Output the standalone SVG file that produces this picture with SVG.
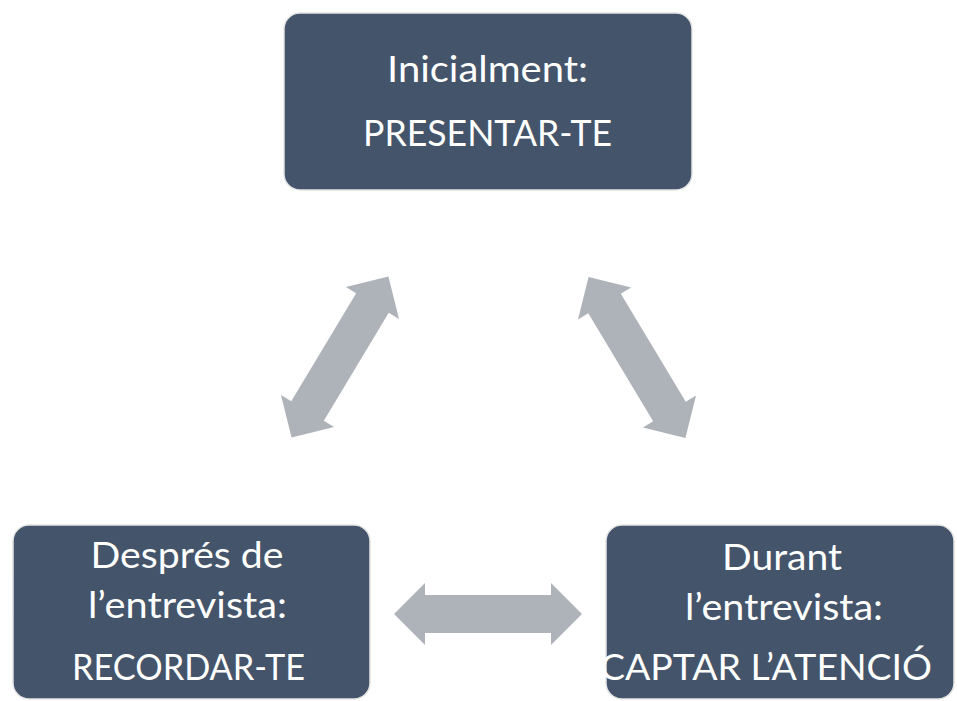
<svg xmlns="http://www.w3.org/2000/svg" width="957" height="701" viewBox="0 0 957 701">
<defs>
<style>
.box{fill:#44546A;stroke:#E4E4E4;stroke-width:1.5}
.t{font-family:Lato,"Liberation Sans",sans-serif;font-size:37px;fill:#FFFFFF;text-anchor:middle}
.arr{fill:#AEB2B9}
</style>
<path id="dbl" d="M -94 0 L -63 -31 L -63 -19 L 63 -19 L 63 -31 L 94 0 L 63 31 L 63 19 L -63 19 L -63 31 Z"/>
</defs>
<rect width="957" height="701" fill="#FFFFFF"/>
<g id="connectors">
<use href="#dbl" class="arr" transform="translate(340,357) rotate(-59)"/>
<use href="#dbl" class="arr" transform="translate(637,357.5) rotate(59)"/>
<use href="#dbl" class="arr" transform="translate(488,614)"/>
</g>
<g id="node-top">
<rect class="box" x="284" y="13" width="408" height="177" rx="16"/>
<text class="t" x="487.5" y="82" textLength="201" lengthAdjust="spacingAndGlyphs">Inicialment:</text>
<text class="t" x="487.5" y="146" textLength="249" lengthAdjust="spacingAndGlyphs">PRESENTAR-TE</text>
</g>
<g id="node-left">
<rect class="box" x="13" y="525" width="357" height="174" rx="16"/>
<text class="t" x="187" y="568" textLength="193" lengthAdjust="spacingAndGlyphs">Després de</text>
<text class="t" x="187.5" y="618" textLength="199" lengthAdjust="spacingAndGlyphs">l’entrevista:</text>
<text class="t" x="188.5" y="680" textLength="233" lengthAdjust="spacingAndGlyphs">RECORDAR-TE</text>
</g>
<g id="node-right">
<rect class="box" x="606" y="525" width="348" height="174" rx="16"/>
<text class="t" x="782" y="570" textLength="120" lengthAdjust="spacingAndGlyphs">Durant</text>
<text class="t" x="784" y="620" textLength="198" lengthAdjust="spacingAndGlyphs">l’entrevista:</text>
<text class="t" x="766" y="680" textLength="332" lengthAdjust="spacingAndGlyphs">CAPTAR L’ATENCIÓ</text>
</g>
</svg>
